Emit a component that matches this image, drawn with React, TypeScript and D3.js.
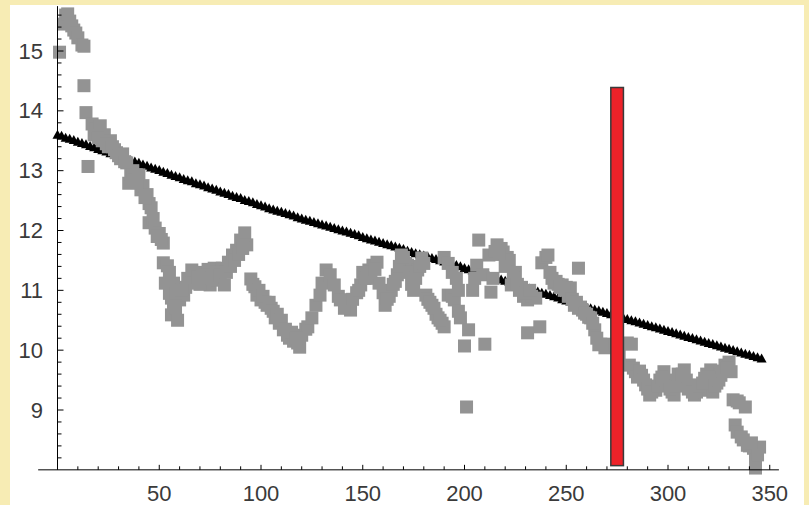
import React from 'react';
import * as d3 from 'd3';

const W = 809;
const H = 505;

// gray squares (x, value)
const grayX = [
  1, 3, 4, 5, 6, 7, 8, 9, 10, 12, 13, 13, 14, 15, 17, 19, 21, 22, 23, 25,
  26, 28, 29, 31, 32, 34, 35, 36, 37, 38, 40, 41, 42, 44, 45, 45, 46, 47, 48, 50,
  52, 52, 54, 53, 56, 57, 56, 56, 58, 59, 60, 62, 63, 64, 66, 67, 69, 71, 72, 74,
  75, 77, 79, 81, 82, 84, 86, 88, 90, 92, 93, 95, 97, 98, 100, 102, 103, 105, 107, 109,
  111, 113, 114, 116, 118, 119, 120, 122, 123, 125, 127, 129, 130, 132, 134, 136, 138, 139, 142, 144,
  147, 149, 151, 153, 155, 157, 158, 160, 161, 163, 164, 166, 167, 169, 171, 172, 174, 175, 177, 179,
  181, 182, 184, 186, 187, 189, 190, 190, 192, 192, 194, 194, 195, 196, 197, 197, 198, 200, 201, 202,
  204, 205, 206, 207, 209, 210, 212, 213, 214, 216, 218, 219, 221, 222, 223, 225, 227, 229, 231, 231,
  233, 235, 237, 238, 240, 241, 242, 244, 246, 248, 250, 252, 254, 256, 256, 258, 260, 262, 264, 266,
  269, 271, 274, 276, 280, 281, 282, 284, 287, 289, 291, 294, 296, 298, 300, 302, 303, 306, 308, 311,
  313, 316, 318, 321, 322, 324, 326, 328, 330, 331, 332, 333, 334, 335, 338, 337, 339, 342, 345, 343,
  343,
  70, 73, 76, 78, 80, 83, 85, 87, 89, 91,
  96, 99, 101, 104, 106, 108, 110, 112, 115, 117,
  141, 145, 148, 150, 152, 154, 156,
  162, 165, 168, 170, 173, 176, 178, 180, 183, 185, 188,
  215, 217, 220, 224, 226, 228, 230, 232,
  243, 245, 247, 249, 251, 253, 255, 257, 259, 261, 263, 265, 267,
  283, 285, 286, 288, 290, 292, 295, 297, 299, 301, 304, 305, 307, 309, 310, 312, 314, 315, 317, 319,
  320, 323, 325, 327, 329, 334, 336, 340, 341, 344,
  18, 20, 24, 27, 30, 33, 39, 43, 49, 51, 55, 55, 57, 58, 61,
];
const grayY = [
  14.98, 15.45, 15.6, 15.62, 15.5, 15.42, 15.35, 15.3, 15.22, 15.1, 15.08, 14.42, 13.97, 13.07, 13.78, 13.7, 13.75, 13.5, 13.6, 13.4,
  13.5, 13.35, 13.3, 13.2, 13.28, 13.13, 12.79, 12.95, 13.0, 12.85, 12.93, 12.68, 12.75, 12.6, 12.45, 12.13, 12.38, 12.2, 12.04, 11.95,
  11.79, 11.46, 11.41, 11.12, 11.0, 11.12, 10.87, 10.59, 10.7, 10.5, 10.84, 10.92, 11.05, 11.2, 11.34, 11.12, 11.22, 11.3, 11.15, 11.35,
  11.09, 11.37, 11.17, 11.37, 11.09, 11.47, 11.59, 11.67, 11.84, 11.96, 11.76, 11.19, 11.06, 10.92, 10.84, 10.8, 10.75, 10.7, 10.54, 10.45,
  10.34, 10.25, 10.2, 10.15, 10.12, 10.05, 10.25, 10.35, 10.39, 10.54, 10.75, 10.92, 11.12, 11.34, 11.26, 11.09, 10.9, 10.84, 10.84, 10.67,
  10.96, 11.09, 11.2, 11.34, 11.42, 11.47, 11.12, 10.96, 10.75, 10.9, 11.0, 11.15, 11.26, 11.59, 11.45, 11.42, 11.1, 11.0, 11.34, 11.54,
  10.92, 10.85, 10.75, 10.6, 10.54, 10.45, 10.39, 11.55, 10.92, 11.45, 10.9, 11.3, 10.84, 11.2, 10.65, 11.0, 10.54, 10.07, 9.05, 10.34,
  11.0, 11.2, 11.42, 11.84, 11.26, 10.1, 11.59, 10.97, 11.2, 11.76, 11.7, 11.64, 11.55, 11.5, 11.09, 11.3, 11.0, 10.9, 10.84, 10.29,
  10.9, 10.87, 10.39, 11.46, 11.55, 11.59, 11.3, 11.12, 11.1, 11.09, 11.05, 11.04, 10.75, 11.37, 10.7, 10.67, 10.6, 10.54, 10.34, 10.09,
  10.04, 10.1, 10.09, 9.92, 10.12, 9.75, 10.1, 9.64, 9.58, 9.42, 9.25, 9.33, 9.5, 9.64, 9.42, 9.3, 9.25, 9.53, 9.67, 9.42,
  9.25, 9.33, 9.53, 9.67, 9.3, 9.45, 9.58, 9.75, 9.8, 9.64, 9.17, 8.75, 8.63, 9.12, 9.05, 8.5, 8.41, 8.36, 8.38, 8.16,
  8.03,
  11.1, 11.25, 11.2, 11.3, 11.25, 11.3, 11.4, 11.5, 11.6, 11.7,
  11.1, 11.0, 10.9, 10.8, 10.65, 10.6, 10.5, 10.35, 10.3, 10.2,
  10.7, 10.85, 11.0, 11.3, 11.2, 11.3, 11.35,
  10.85, 11.1, 11.4, 11.55, 11.3, 11.2, 11.4, 11.45, 10.8, 10.7, 10.5,
  11.65, 11.6, 11.4, 11.2, 11.1, 11.05, 10.95, 11.0,
  11.2, 11.15, 11.05, 11.0, 10.9, 10.85, 10.8, 10.72, 10.62, 10.55, 10.45, 10.2, 10.1,
  9.7, 9.55, 9.65, 9.5, 9.35, 9.3, 9.4, 9.55, 9.5, 9.35, 9.4, 9.6, 9.6, 9.5, 9.35, 9.3, 9.3, 9.4, 9.45, 9.6,
  9.55, 9.4, 9.5, 9.65, 9.7, 9.15, 8.55, 8.4, 8.45, 8.25,
  13.6, 13.55, 13.45, 13.4, 13.25, 13.15, 12.8, 12.55, 11.9, 11.85, 11.3, 10.95, 10.75, 10.95, 11.0,
];

// black triangles, one every 2 units starting at 0
const lineStep = 2;
const lineY = [
  13.61, 13.59, 13.56, 13.54, 13.52, 13.49, 13.47, 13.45, 13.42, 13.40,
  13.37, 13.35, 13.33, 13.30, 13.28, 13.26, 13.23, 13.21, 13.18, 13.16,
  13.14, 13.11, 13.09, 13.06, 13.04, 13.02, 12.99, 12.97, 12.94, 12.92,
  12.90, 12.87, 12.85, 12.83, 12.80, 12.78, 12.76, 12.73, 12.71, 12.69,
  12.66, 12.64, 12.62, 12.59, 12.57, 12.55, 12.52, 12.50, 12.48, 12.45,
  12.43, 12.41, 12.38, 12.36, 12.34, 12.32, 12.30, 12.28, 12.26, 12.23,
  12.21, 12.19, 12.17, 12.15, 12.13, 12.11, 12.09, 12.07, 12.05, 12.03,
  12.01, 11.99, 11.97, 11.95, 11.93, 11.90, 11.88, 11.86, 11.84, 11.82,
  11.80, 11.78, 11.76, 11.74, 11.72, 11.70, 11.67, 11.65, 11.63, 11.61,
  11.59, 11.57, 11.55, 11.53, 11.51, 11.49, 11.47, 11.45, 11.43, 11.41,
  11.38, 11.36, 11.34, 11.32, 11.30, 11.28, 11.25, 11.23, 11.21, 11.19,
  11.17, 11.15, 11.12, 11.10, 11.08, 11.06, 11.04, 11.02, 10.99, 10.97,
  10.95, 10.93, 10.91, 10.89, 10.86, 10.84, 10.82, 10.80, 10.78, 10.76,
  10.73, 10.71, 10.69, 10.67, 10.65, 10.63, 10.61, 10.59, 10.57, 10.55,
  10.53, 10.51, 10.49, 10.47, 10.45, 10.43, 10.41, 10.39, 10.37, 10.35,
  10.33, 10.31, 10.29, 10.27, 10.25, 10.23, 10.21, 10.19, 10.17, 10.15,
  10.13, 10.11, 10.09, 10.07, 10.05, 10.03, 10.01, 9.99, 9.97, 9.95,
  9.93, 9.91, 9.89, 9.87,
];

// red marker bar
const barX = 275;
const barHalf = 3.1;
const barLow = 8.07;
const barHigh = 14.39;

const xTicks = [50, 100, 150, 200, 250, 300, 350];
const yTicks = [9, 10, 11, 12, 13, 14, 15];

const App = () => {
  const x = d3.scaleLinear().domain([0, 350]).range([57.5, 769.75]);
  const y = d3.scaleLinear().domain([9, 15]).range([410, 51]);

  const x0 = x(0);
  const y0 = y(8);
  const xMinor = d3.range(10, 351, 10).filter(v => v % 50 !== 0);
  const yMinor = d3.range(8.2, 15.7, 0.2).filter(v => Math.abs(v - Math.round(v)) > 0.01);

  const sq = 13;
  const tri = (cx: number, cy: number) =>
    `M${cx - 5},${cy + 4.5}L${cx},${cy - 4.5}L${cx + 5},${cy + 4.5}Z`;

  const font = { fontFamily: 'Liberation Sans, Arial, sans-serif', fontSize: 22, fill: '#3a3a3a' };

  return (
    <svg width={W} height={H} style={{ position: 'absolute', left: 0, top: 0 }}>
      <rect x={0} y={0} width={W} height={H} fill="#f7ecb4" />
      <rect x={10} y={5} width={794} height={500} fill="#fff" />

      {/* black triangles */}
      <g fill="#000">
        {lineY.map((v, i) => (
          <path key={i} d={tri(x(i * lineStep), y(v))} />
        ))}
      </g>

      {/* gray squares */}
      <g fill="#939393">
        {grayX.map((v, i) => (
          <rect key={i} x={x(v) - sq / 2} y={y(grayY[i]) - sq / 2} width={sq} height={sq} />
        ))}
      </g>

      {/* axes */}
      <g stroke="#000" strokeWidth={1}>
        <line x1={x(-9.5)} x2={x(354.5)} y1={y0} y2={y0} />
        <line x1={x0} x2={x0} y1={y0} y2={y(15.75)} />
        {xTicks.map(t => <line key={'xm' + t} x1={x(t)} x2={x(t)} y1={y0} y2={y0 - 5} />)}
        {xMinor.map(t => <line key={'xn' + t} x1={x(t)} x2={x(t)} y1={y0} y2={y0 - 3.5} />)}
        {yTicks.map(t => <line key={'ym' + t} x1={x0} x2={x0 + 6} y1={y(t)} y2={y(t)} />)}
        {yMinor.map(t => <line key={'yn' + t} x1={x0} x2={x0 + 4} y1={y(t)} y2={y(t)} />)}
      </g>
      <g style={font}>
        {xTicks.map(t => (
          <text key={'xl' + t} x={x(t)} y={501} textAnchor="middle">{t}</text>
        ))}
        {yTicks.map(t => (
          <text key={'yl' + t} x={43} y={y(t)} textAnchor="end" dominantBaseline="central">{t}</text>
        ))}
      </g>

      {/* red bar */}
      <rect
        x={x(barX - barHalf)}
        y={y(barHigh)}
        width={x(barX + barHalf) - x(barX - barHalf)}
        height={y(barLow) - y(barHigh)}
        fill="#ee2229"
        stroke="#3a3a3a"
        strokeWidth={1.5}
      />
    </svg>
  );
};

export default App;
